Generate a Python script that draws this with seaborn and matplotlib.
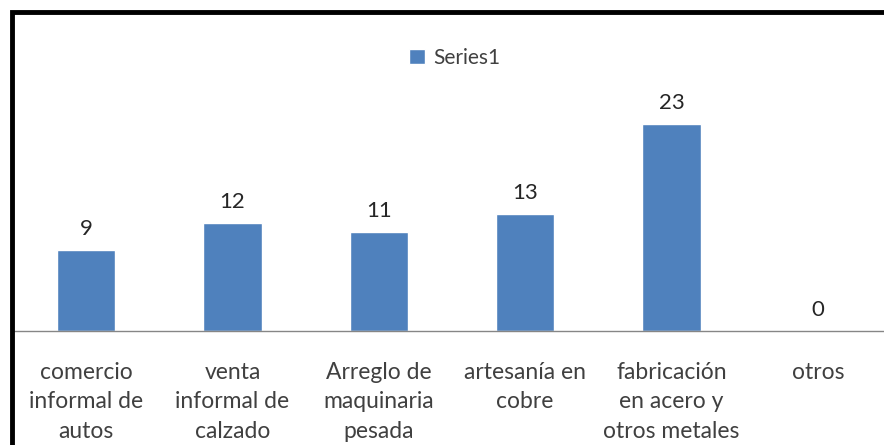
import matplotlib
matplotlib.use("Agg")
import matplotlib.pyplot as plt
import matplotlib.patches as patches
import seaborn as sns

categories = ["comercio\ninformal de\nautos", "venta\ninformal de\ncalzado",
              "Arreglo de\nmaquinaria\npesada", "artesanía en\ncobre",
              "fabricación\nen acero y\notros metales", "otros"]
values = [9, 12, 11, 13, 23, 0]
series_name = "Series1"

sns.set_style("white")
plt.rcParams['font.family'] = ['Lato', 'DejaVu Sans']

fig = plt.figure(figsize=(8.84, 4.45), dpi=100)
# axes stretch a bit past the right edge, like the cropped original
ax = fig.add_axes([13 / 884, (445 - 331) / 445, 878 / 884, 315 / 445])

sns.barplot(x=categories, y=values, color="#4F81BD", width=0.4,
            label=series_name, ax=ax, saturation=1)
ax.set_ylim(0, 35)
ax.set_yticks([])
ax.set_xlabel("")
ax.set_ylabel("")

for side in ["top", "right", "left"]:
    ax.spines[side].set_visible(False)
ax.spines["bottom"].set_color("#868686")
ax.spines["bottom"].set_linewidth(1)

ax.tick_params(axis="x", length=0, pad=22, labelsize=16.5, labelcolor="#404040")
for lbl in ax.get_xticklabels():
    lbl.set_linespacing(1.5)

ax.bar_label(ax.containers[0], padding=8, fontsize=16, color="#262626")

ax.legend(loc="center", bbox_to_anchor=(455 / 884, (445 - 58) / 445),
          bbox_transform=fig.transFigure, frameon=False, fontsize=15,
          handlelength=0.75, handleheight=0.75, handletextpad=0.4,
          labelcolor="#404040")

# thick black frame (only top and left visible in the crop)
fig.patches.append(patches.Rectangle((12 / 884, -0.2), 2, (445 - 12) / 445 + 0.2,
                                     transform=fig.transFigure, fill=False,
                                     lw=3.5, ec="black"))

fig.savefig("out.png", dpi=100)
